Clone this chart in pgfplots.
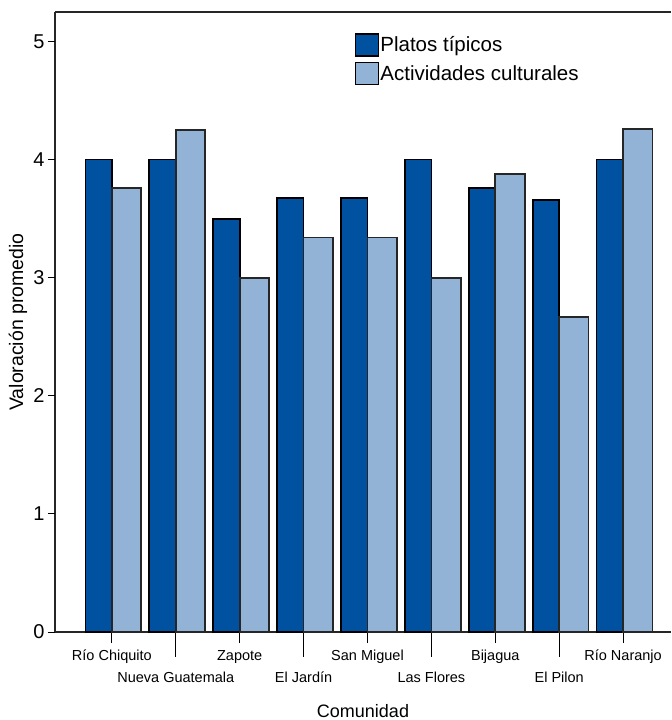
\documentclass[border=0pt]{standalone}
\usepackage{pgfplots}
\pgfplotsset{compat=1.18}
\usepackage{fontspec}
\setmainfont{Liberation Sans}

\definecolor{platos}{RGB}{0,82,160}
\definecolor{activ}{RGB}{146,178,214}

\begin{document}
\begin{tikzpicture}
\begin{axis}[
    name=ax,
    scale only axis,
    width=616pt, height=620pt,
    xmin=-0.89, xmax=8.75,
    ymin=0, ymax=5.25,
    axis x line*=bottom, axis y line*=left,
    axis line style={line width=1.2pt, black!85},
    after end axis/.code={\draw[line width=1.2pt, black!85] (rel axis cs:0,1) -- (rel axis cs:1,1);},
    tick align=outside,
    major tick length=11pt,
    ytick=\empty,
    extra y ticks={0,1,2,3,4,5},
    extra y tick style={major tick length=7pt, grid=none, tick style={line width=1pt, black}},
    y tick label style={font=\fontsize{20}{24}\selectfont},
    /pgf/number format/assume math mode=true,
    xtick style={line width=0.8pt, black},
    xtick={0,2,4,6,8},
    xticklabels={Río Chiquito, Zapote, San Miguel, Bijagua, Río Naranjo},
    extra x ticks={1,3,5,7},
    extra x tick labels={Nueva Guatemala, El Jardín, Las Flores, El Pilon},
    extra x tick style={major tick length=25pt, grid=none, tick style={line width=0.8pt, black}, tick label style={yshift=-8pt}},
    x tick label style={font=\fontsize{14.5}{17}\selectfont, anchor=base, yshift=-17pt},
    xlabel={Comunidad},
    ylabel={Valoración promedio},
    every axis x label/.style={at={(axis description cs:0.5,-0.1275)}, anchor=center, font=\fontsize{18}{22}\selectfont},
    every axis y label/.style={at={(axis description cs:-0.060,0.5)}, rotate=90, anchor=center, font=\fontsize{19.5}{23}\selectfont},
    legend style={at={(0.482,0.969)}, anchor=north west, draw=none, fill=none,
      font=\fontsize{20.5}{24}\selectfont, row sep=5pt,
      nodes={inner sep=1pt}, cells={anchor=west}},
    legend image code/.code={\draw[#1, draw=black, line width=1.3pt] (0pt,-11pt) rectangle (23pt,11pt);},
    ]
\addplot[ybar, bar width=0.414, bar shift=-0.207, fill=platos, draw=black, line width=1.7pt]
  coordinates {(0,4) (1,4) (2,3.5) (3,3.675) (4,3.675) (5,4) (6,3.76) (7,3.66) (8,4)};
\addplot[ybar, bar width=0.461, bar shift=0.2305, fill=activ, draw=black!85, line width=1.7pt]
  coordinates {(0,3.76) (1,4.25) (2,3.0) (3,3.34) (4,3.34) (5,3.0) (6,3.88) (7,2.67) (8,4.26)};
\legend{Platos típicos, Actividades culturales}
\end{axis}
\pgfresetboundingbox
\useasboundingbox ([xshift=-55pt,yshift=-88pt]ax.south west) rectangle ([yshift=12pt]ax.north east);
\end{tikzpicture}
\end{document}
